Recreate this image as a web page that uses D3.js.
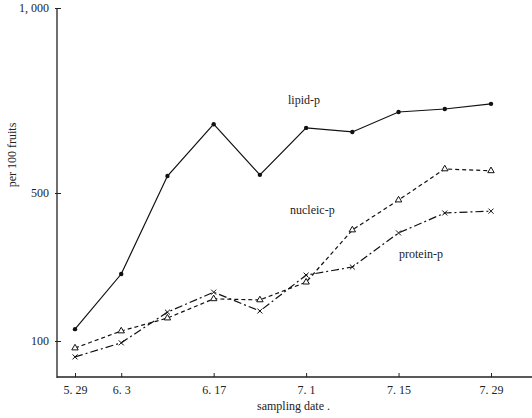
<!DOCTYPE html>
<html><head><meta charset="utf-8">
<script src="https://cdn.jsdelivr.net/npm/d3@7"></script>
<style>body{margin:0;background:#fff}svg{display:block}text{font-family:"Liberation Serif","DejaVu Serif",serif;fill:#222}</style>
</head><body>
<svg id="c" width="532" height="418"></svg>
<script>
const dates = ["5. 29","6. 3","6. 10","6. 17","6. 24","7. 1","7. 8","7. 15","7. 22","7. 29"];
const xTickLabels = ["5. 29","6. 3","6. 17","7. 1","7. 15","7. 29"];
const lipid   = [132, 281, 546, 686, 549, 676, 665, 719, 727, 741];
const nucleic = [81, 127, 162, 214, 211, 259, 400, 481, 565, 560];
const protein = [57, 95, 178, 232, 181, 278, 300, 392, 446, 451];
const yTicks = [100, 500, 1000];
const yTickLabels = ["100", "500", "1, 000"];

const svg = d3.select("#c");
const x = d3.scalePoint().domain(dates).range([75, 491]);
const y = d3.scaleLinear().domain([0, 1000]).range([378, 8]);

// axes
const xAxis = svg.append("g").attr("transform","translate(0,377)")
  .call(d3.axisBottom(x).tickValues(xTickLabels).tickSize(-4).tickPadding(8));
xAxis.select(".domain").attr("d","M57,0H532").attr("stroke","#222").attr("stroke-width",1.3);
xAxis.selectAll(".tick line").attr("stroke","#222");
xAxis.selectAll(".tick text").attr("font-size",12).attr("font-family","Liberation Serif");

const yAxis = svg.append("g").attr("transform","translate(57,0)")
  .call(d3.axisLeft(y).tickValues(yTicks).tickFormat((d,i)=>yTickLabels[i]).tickSize(-4).tickPadding(8));
yAxis.select(".domain").attr("d","M0,8V378").attr("stroke","#222").attr("stroke-width",1.3);
yAxis.selectAll(".tick line").attr("stroke","#222").attr("x1",-2).attr("x2",4);
yAxis.selectAll(".tick text").attr("font-size",12).attr("font-family","Liberation Serif");

// lines
const line = d3.line().x((d,i)=>x(dates[i])).y(d=>y(d));
svg.append("path").datum(lipid).attr("d",line).attr("fill","none").attr("stroke","#111").attr("stroke-width",1.2);
svg.append("path").datum(nucleic).attr("d",line).attr("fill","none").attr("stroke","#111").attr("stroke-width",1.2).attr("stroke-dasharray","4,3");
svg.append("path").datum(protein).attr("d",line).attr("fill","none").attr("stroke","#111").attr("stroke-width",1.2).attr("stroke-dasharray","8,3,2,3");

// markers
svg.append("g").selectAll("circle").data(lipid).join("circle")
  .attr("cx",(d,i)=>x(dates[i])).attr("cy",d=>y(d)).attr("r",2.2).attr("fill","#111");
svg.append("g").selectAll("path").data(nucleic).join("path")
  .attr("transform",(d,i)=>`translate(${x(dates[i])},${y(d)})`)
  .attr("d",d3.symbol(d3.symbolTriangle,18)).attr("fill","#fff").attr("stroke","#111").attr("stroke-width",1);
svg.append("g").selectAll("path").data(protein).join("path")
  .attr("transform",(d,i)=>`translate(${x(dates[i])},${y(d)})`)
  .attr("d",d3.symbol(d3.symbolTimes,18)).attr("fill","#111").attr("stroke","#111").attr("stroke-width",1);

// labels
svg.append("text").attr("x",288).attr("y",104).attr("font-size",12).text("lipid-p");
svg.append("text").attr("x",290).attr("y",214).attr("font-size",12).text("nucleic-p");
svg.append("text").attr("x",399).attr("y",258).attr("font-size",12).text("protein-p");
svg.append("text").attr("x",257).attr("y",410).attr("font-size",12).text("sampling date  .");
svg.append("text").attr("transform","translate(16,155) rotate(-90)").attr("text-anchor","middle").attr("font-size",12).text("per 100 fruits");
</script>
</body></html>
